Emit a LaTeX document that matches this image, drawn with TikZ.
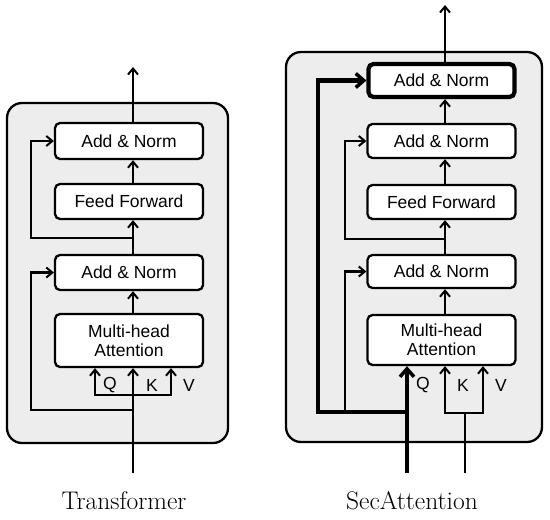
\documentclass[tikz,border=0pt]{standalone}
\usepackage{fontspec}
\newfontfamily\boxfont{Liberation Sans}
\usetikzlibrary{arrows.meta}
\definecolor{panelgray}{HTML}{EDEDED}
\tikzset{
  panel/.style={draw=black, line width=2.3pt, fill=panelgray, rounded corners=15pt},
  blk/.style={draw=black, line width=2.3pt, fill=white, rounded corners=5pt,
    minimum width=148pt, inner sep=0pt, align=center,
    font=\boxfont\fontsize{17.5}{20}\selectfont},
  thickblk/.style={blk, line width=4.2pt, minimum width=146pt},
  conn/.style={line width=2.1pt},
  arr/.style={conn, -{Straight Barb[length=6pt,width=10pt,line width=2pt]}},
  thickconn/.style={line width=4.5pt},
  thickarr/.style={thickconn, -{Straight Barb[length=8pt,width=14pt,line width=3.5pt]}},
  lbl/.style={font=\boxfont\fontsize{17.5}{20}\selectfont, inner sep=0pt},
  caption/.style={font=\fontsize{25.5}{30}\selectfont, anchor=base, inner sep=0pt}
}
\begin{document}
\begin{tikzpicture}[x=1pt,y=-1pt]
\useasboundingbox (0,0) rectangle (550,520);
% ---------- Transformer ----------
\draw[panel] (7,103) rectangle (228,443);
\coordinate (L) at (133,0);
\coordinate (LQ) at (95,0);
\coordinate (LV) at (171,0);
\node[blk, minimum height=36pt] (lan2) at (129,141) {Add \& Norm};
\node[blk, minimum height=35pt] (lff) at (129,201.5) {Feed Forward};
\node[blk, minimum height=35pt] (lan1) at (129,272.5) {Add \& Norm};
\node[blk, minimum height=53pt] (lmha) at (129,340.5) {Multi-head\\[-1pt]Attention};
\coordinate (lin) at (133,473);
\coordinate (lout) at (133,67);
\coordinate (lqkv) at (133,395);
\coordinate (lres1) at (133,410);
\coordinate (lres2) at (133,238);
\draw[arr] (lin) -- (lmha.south -| L);
\draw[arr] (lqkv) -| (lmha.south -| LQ);
\draw[arr] (lqkv) -| (lmha.south -| LV);
\draw[arr] (lres1) -- (31,410) |- (lan1.west);
\draw[arr] (lmha.north -| L) -- (lan1.south -| L);
\draw[arr] (lan1.north -| L) -- (lff.south -| L);
\draw[arr] (lres2) -- (31,238) |- (lan2.west);
\draw[arr] (lff.north -| L) -- (lan2.south -| L);
\draw[arr] (lan2.north -| L) -- (lout);
\node[lbl] (lq) at (110,385) {Q};
\node[lbl] (lk) at (152,385) {K};
\node[lbl] (lv) at (189,385) {V};
\node[caption] (lcap) at (124,509) {Transformer};
% ---------- SecAttention ----------
\draw[panel] (286,52) rectangle (542,442);
\coordinate (R) at (445,0);
\coordinate (RQ) at (407,0);
\coordinate (RV) at (483,0);
\node[thickblk, minimum height=33pt] (rant) at (441.5,80.5) {Add \& Norm};
\node[blk, minimum height=34pt] (ran2) at (441.5,141) {Add \& Norm};
\node[blk, minimum height=34pt] (rff) at (441.5,202) {Feed Forward};
\node[blk, minimum height=33pt] (ran1) at (441.5,271.5) {Add \& Norm};
\node[blk, minimum height=50pt] (rmha) at (441.5,340) {Multi-head\\[-1pt]Attention};
\coordinate (rqin) at (407,473);
\coordinate (rkin) at (465,473);
\coordinate (rkv) at (465,413);
\coordinate (rres) at (407,412);
\coordinate (rres1) at (345,412);
\coordinate (rres2) at (445,239);
\coordinate (rout) at (445,5);
\draw[thickconn] (rres) -- (318,412) |- ([xshift=-8pt]rant.west);
\draw[thickarr] (318,412) |- (rant.west);
\draw[thickarr] (rqin) -- (rmha.south -| RQ);
\draw[conn] (rkin) -- (rkv);
\draw[arr] (rkv) -| (rmha.south -| R);
\draw[arr] (rkv) -| (rmha.south -| RV);
\draw[arr] (rres1) |- (ran1.west);
\draw[arr] (rmha.north -| R) -- (ran1.south -| R);
\draw[arr] (ran1.north -| R) -- (rff.south -| R);
\draw[arr] (rres2) -- (345,239) |- (ran2.west);
\draw[arr] (rff.north -| R) -- (ran2.south -| R);
\draw[arr] (ran2.north -| R) -- (rant.south -| R);
\draw[arr] (rant.north -| R) -- (rout);
\node[lbl] (rq) at (423,385) {Q};
\node[lbl] (rk) at (463,385) {K};
\node[lbl] (rv) at (501,385) {V};
\node[caption] (rcap) at (412,509) {SecAttention};
\end{tikzpicture}
\end{document}
